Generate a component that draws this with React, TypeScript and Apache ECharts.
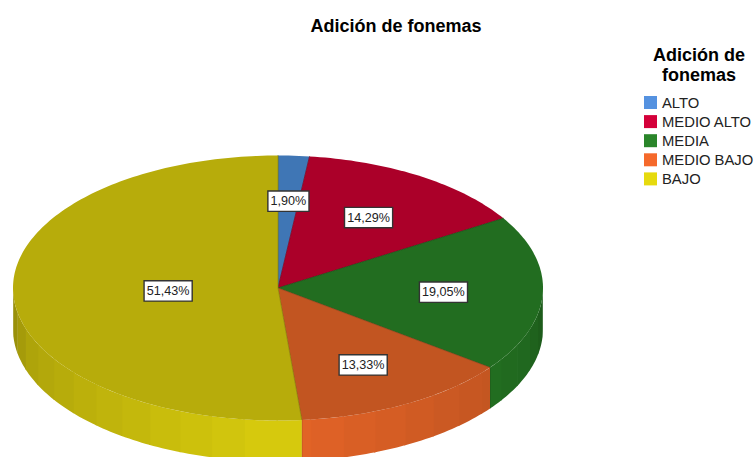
import React, { useEffect, useRef } from "react";
import * as echarts from "echarts";

const titleText = "Adición de fonemas";
const legendTitle = "Adición de\nfonemas";
const categories = ["ALTO", "MEDIO ALTO", "MEDIA", "MEDIO BAJO", "BAJO"];
const values = [1.9, 14.29, 19.05, 13.33, 51.43];
const valueLabels = ["1,90%", "14,29%", "19,05%", "13,33%", "51,43%"];
const legendColors = ["#5592e0", "#d4003a", "#2a852a", "#f5692b", "#e6da0e"];
const topColors = ["#3f76b5", "#ab0029", "#226d20", "#c25521", "#b7ac0b"];
const labelRadii = [0.66, 0.635, 0.625, 0.66, 0.415];

const CX = 278;
const CY = 288;
const RX = 265;
const RY = 132.5;
const DEPTH = 41;
const FACET = (2 * Math.PI) / 50;
const TOTAL = values.reduce((a, b) => a + b, 0);

function shade(hex: string, f: number) {
  const n = parseInt(hex.slice(1), 16);
  const ch = (v: number) => Math.max(0, Math.min(255, Math.round(v * f)));
  return `rgb(${ch((n >> 16) & 255)},${ch((n >> 8) & 255)},${ch(n & 255)})`;
}
const pt = (t: number, dy = 0): number[] => [
  CX + RX * Math.sin(t),
  CY - RY * Math.cos(t) + dy,
];
function arcPoints(a: number, b: number, dy = 0) {
  const n = Math.max(2, Math.ceil((b - a) / 0.02));
  const out: number[][] = [];
  for (let i = 0; i <= n; i++) out.push(pt(a + ((b - a) * i) / n, dy));
  return out;
}
function wallFactor(t: number) {
  const d = Math.abs(t - Math.PI);
  return 1.18 - 0.19 * d - 0.25 * Math.max(0, d - 1.2);
}

function renderSlice(params: any, api: any) {
  const i = params.dataIndex;
  const v = api.value(0);
  let before = 0;
  for (let k = 0; k < i; k++) before += values[k];
  const a = (before / TOTAL) * 2 * Math.PI;
  const b = a + (v / TOTAL) * 2 * Math.PI;
  const base = topColors[i];
  const children: any[] = [];

  const wa = Math.max(a, Math.PI / 2);
  const wb = Math.min(b, (3 * Math.PI) / 2);
  if (wb > wa) {
    const facets: number[][] = [];
    let s = wa;
    while (s < wb - 1e-6) {
      const e = Math.min(wb, (Math.floor(s / FACET + 1e-6) + 1) * FACET);
      facets.push([s, e]);
      s = e;
    }
    // Painted from the far end so each facet's small overlap hides the seam.
    facets.forEach(([f0, f1]) => {
      const over = Math.min(wb, f1 + 0.006);
      children.push({
        type: "polygon",
        shape: { points: [...arcPoints(f0, over), ...arcPoints(f0, over, DEPTH).reverse()] },
        style: { fill: shade(base, wallFactor((f0 + f1) / 2)) },
      });
    });
    if (b < (3 * Math.PI) / 2) {
      const p0 = pt(b);
      children.push({
        type: "line",
        shape: { x1: p0[0], y1: p0[1], x2: p0[0], y2: p0[1] + DEPTH },
        style: { stroke: shade(base, 0.72), lineWidth: 0.7 },
      });
    }
  }

  children.push({
    type: "polygon",
    shape: { points: [[CX, CY], ...arcPoints(a, b)] },
    style: { fill: base },
  });
  children.push({
    type: "polyline",
    shape: { points: [pt(a), [CX, CY], pt(b)] },
    style: { fill: "none", stroke: shade(base, 0.78), lineWidth: 0.7 },
  });
  return { type: "group", children };
}

function renderLabel(params: any, api: any) {
  const i = params.dataIndex;
  let before = 0;
  for (let k = 0; k < i; k++) before += values[k];
  const mid = ((before + api.value(0) / 2) / TOTAL) * 2 * Math.PI;
  const r = labelRadii[i];
  return {
    type: "text",
    x: CX + RX * r * Math.sin(mid),
    y: CY + 0.5 - RY * r * Math.cos(mid),
    style: {
      text: valueLabels[i],
      font: '12.6px "Liberation Sans", Arial, sans-serif',
      fill: "#222222",
      align: "center",
      verticalAlign: "middle",
      backgroundColor: "#ffffff",
      borderColor: "#333333",
      borderWidth: 1.4,
      padding: [3, 2, 3, 2],
    },
  };
}

export default function App() {
  const ref = useRef<HTMLDivElement>(null);
  useEffect(() => {
    document.body.style.margin = "0";
    const chart = echarts.init(ref.current!, undefined, { renderer: "svg" });
    const font = '"Liberation Sans", Arial, sans-serif';
    const rows = values.map((v) => [v]);
    chart.setOption({
      animation: false,
      backgroundColor: "#ffffff",
      title: [
        {
          text: titleText,
          left: 396,
          top: 15.5,
          textAlign: "center",
          padding: 0,
          textStyle: { fontFamily: font, fontSize: 18, fontWeight: "bold", color: "#000000", lineHeight: 20 },
        },
        {
          text: legendTitle,
          left: 699,
          top: 45,
          textAlign: "center",
          padding: 0,
          textStyle: { fontFamily: font, fontSize: 18, fontWeight: "bold", color: "#000000", lineHeight: 20 },
        },
      ],
      legend: {
        orient: "vertical",
        left: 644,
        top: 95,
        padding: 0,
        itemWidth: 13,
        itemHeight: 13,
        itemGap: 4.1,
        icon: "rect",
        selectedMode: false,
        data: categories,
        textStyle: { fontFamily: font, fontSize: 14.8, lineHeight: 13, color: "#222222", padding: 0 },
      },
      series: [
        {
          type: "custom",
          coordinateSystem: "none",
          data: rows,
          renderItem: renderSlice,
          silent: true,
          z: 2,
        },
        {
          type: "custom",
          coordinateSystem: "none",
          data: rows,
          renderItem: renderLabel,
          silent: true,
          z: 5,
        },
        {
          type: "pie",
          radius: 0,
          center: [CX, CY],
          silent: true,
          z: 1,
          label: { show: false },
          labelLine: { show: false },
          data: categories.map((name, i) => ({
            name,
            value: values[i],
            itemStyle: { color: legendColors[i] },
          })),
        },
      ],
    });
    return () => chart.dispose();
  }, []);
  return <div ref={ref} style={{ width: 755, height: 457, overflow: "hidden" }} />;
}
